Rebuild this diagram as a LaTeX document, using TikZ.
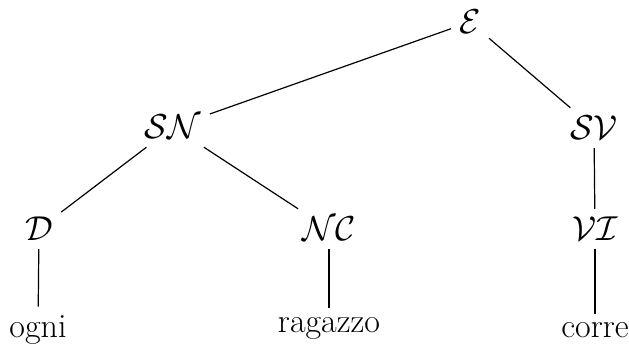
\documentclass[tikz,border=0pt]{standalone}
\usepackage{amsmath}
\usepackage{tikz}
\tikzset{
	cat/.style ={inner sep=4pt, font=\fontsize{17}{20}\selectfont},
	word/.style={inner sep=4pt, anchor=base, font=\fontsize{17}{20}\selectfont},
	br/.style  ={draw=black, line width=0.6pt},
}

\begin{document}
\begin{tikzpicture}[x=0.5pt, y=-0.5pt]
	\useasboundingbox (0,0) rectangle (629,345);
	% categories
	\node[cat] (e)  at (470,22)  {$\mathcal{E}$};
	\node[cat] (sn) at (173,127) {$\mathcal{SN}$};
	\node[cat] (sv) at (594,128) {$\mathcal{SV}$};
	\node[cat] (d)  at (39,229)  {$\mathcal{D}$};
	\node[cat] (nc) at (329,229) {$\mathcal{NC}$};
	\node[cat] (vi) at (595,229) {$\mathcal{VI}$};
	% words
	\node[word] (w1) at (38,337)  {ogni};
	\node[word] (w2) at (329,332) {ragazzo};
	\node[word] (w3) at (595,337) {corre};
	% branches
	\draw[br] (e) -- (sn);
	\draw[br] (e) -- (sv);
	\draw[br] (sn) -- (d);
	\draw[br] (sn) -- (nc);
	\draw[br] (sv) -- (vi);
	\draw[br] (d) -- (w1);
	\draw[br] (nc) -- (w2);
	\draw[br] (vi) -- (w3);
\end{tikzpicture}
\end{document}
